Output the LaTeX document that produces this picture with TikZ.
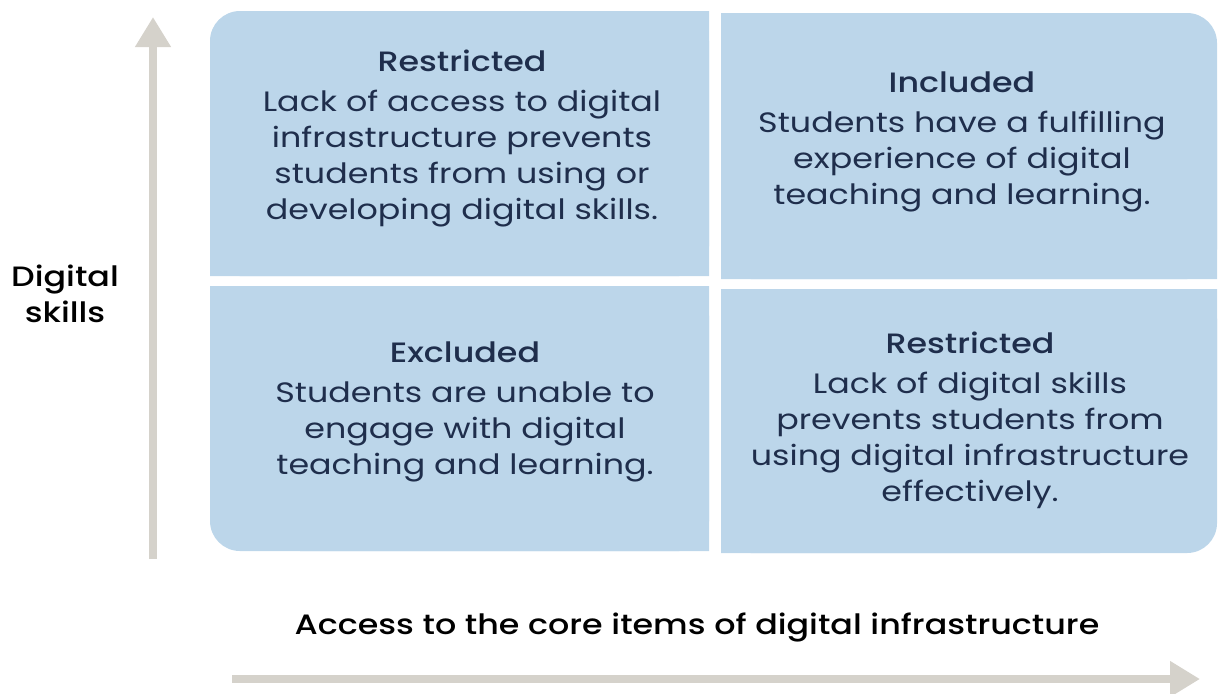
\documentclass[tikz,border=0pt]{standalone}
\usepackage{fontspec}
\setmainfont{Poppins}[FakeStretch=1.19,BoldFont={Poppins Medium}]
\usetikzlibrary{arrows.meta,positioning}
\definecolor{panelblue}{HTML}{BCD6EA}
\definecolor{navy}{HTML}{1F2E4C}
\definecolor{axisgrey}{HTML}{D5D2CB}

\begin{document}
\begin{tikzpicture}[x=0.5pt,y=-0.5pt,
		panel/.style={fill=panelblue},
		quad/.style={text=navy,align=center,inner sep=0pt,font=\fontsize{14}{18}\selectfont},
		axis/.style={draw=axisgrey,line width=4pt,-{Triangle[length=15pt,width=17pt]}},
		axislabel/.style={align=center,inner sep=0pt,font=\fontsize{14}{18}\selectfont\bfseries}]
			\useasboundingbox (0,0) rectangle (1218,693);
			\coordinate (ybot) at (153,559);
			\coordinate (ytop) at (153,17);
			\coordinate (xleft) at (232,679);
			\coordinate (xright) at (1200,679);
			\draw[axis] (ybot) -- (ytop);
			\draw[axis] (xleft) -- (xright);
			\fill[panel,rounded corners=15pt] (210,11) rectangle (709,276);
			\fill[panel] (300,11) rectangle (709,276) (210,100) rectangle (709,276);
			\fill[panel,rounded corners=15pt] (721,13) rectangle (1217,279);
			\fill[panel] (721,13) rectangle (1100,279) (721,100) rectangle (1217,279);
			\fill[panel,rounded corners=15pt] (210,286) rectangle (709,551);
			\fill[panel] (300,286) rectangle (709,551) (210,286) rectangle (709,450);
			\fill[panel,rounded corners=15pt] (721,289) rectangle (1217,553);
			\fill[panel] (721,289) rectangle (1100,553) (721,289) rectangle (1217,450);
			\node[quad] (restrA) at (462,138) {\textbf{Restricted}\\[2pt]Lack of access to digital\\infrastructure prevents\\students from using or\\developing digital skills.};
			\node[quad] (incl) at (962,142) {\textbf{Included}\\[2pt]Students have a fulfilling\\experience of digital\\teaching and learning.};
			\node[quad] (excl) at (465,412) {\textbf{Excluded}\\[2pt]Students are unable to\\engage with digital\\teaching and learning.};
			\node[quad] (restrB) at (970,420) {\textbf{Restricted}\\[2pt]Lack of digital skills\\prevents students from\\using digital infrastructure\\effectively.};
			\node[axislabel] (skills) at (65,294) {Digital\\skills};
			\node[axislabel] (access) at (697,627) {Access to the core items of digital infrastructure};
		\end{tikzpicture}
\end{document}
